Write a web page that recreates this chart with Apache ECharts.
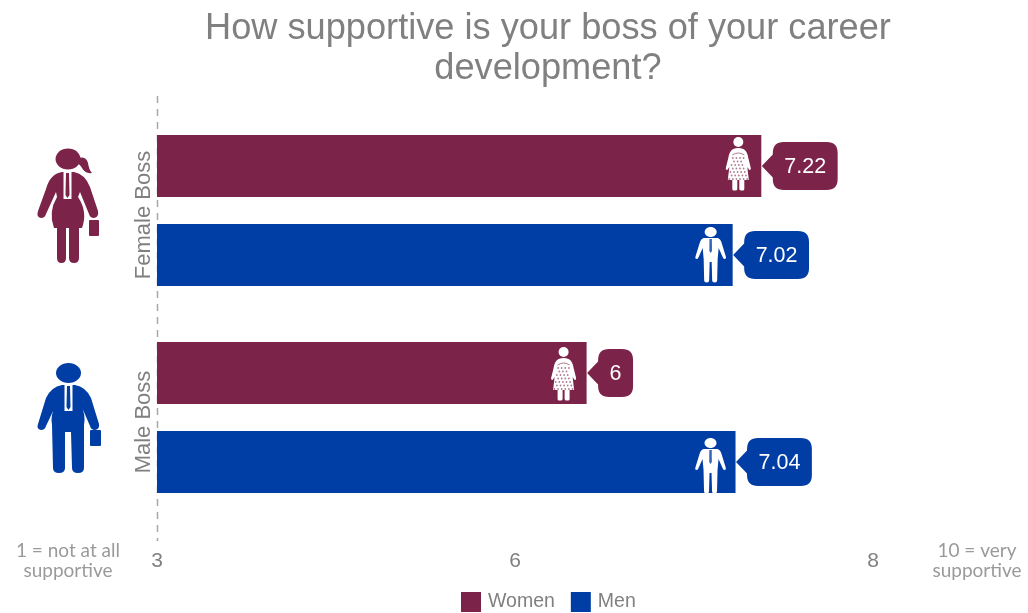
<!DOCTYPE html>
<html>
<head>
<meta charset="utf-8">
<style>html,body{margin:0;padding:0;background:#fff}#chart{width:1028px;height:613px}</style>
<script src="https://cdn.jsdelivr.net/npm/echarts@6/dist/echarts.min.js"></script>
</head>
<body>
<div id="chart"></div>
<script>
// Survey results: rating of the boss's support, split by boss gender and respondent gender.
const categories = ['Female Boss', 'Male Boss'];
const womenValues = [7.22, 6];
const menValues = [7.02, 7.04];
const tickValues = [3, 5.5, 8];
const tickLabels = ['3', '6', '8'];

const WOMEN_COLOR = '#7b2349';
const MEN_COLOR = '#003da5';
const TEXT_GRAY = '#808080';
const BAR_SIZE = 62;
const BAR_GAP = 27;
const SANS = '"Liberation Sans", Arial, sans-serif';
const VALUE_FONT = '21.5px ' + SANS;

const measureCtx = document.createElement('canvas').getContext('2d');
function textWidth(text, font) {
  measureCtx.font = font;
  return measureCtx.measureText(text).width;
}

// Speech-bubble outline: tip at the origin, body to the right of it.
function bubblePath(w) {
  const g = 11, h = 24, r = 11, t = 11.5;
  const x1 = g, x2 = g + w;
  return `M0 0 L${x1} ${-t} L${x1} ${-h + r} Q${x1} ${-h} ${x1 + r} ${-h} ` +
    `L${x2 - r} ${-h} Q${x2} ${-h} ${x2} ${-h + r} L${x2} ${h - r} Q${x2} ${h} ${x2 - r} ${h} ` +
    `L${x1 + r} ${h} Q${x1} ${h} ${x1} ${h - r} L${x1} ${t} Z`;
}

// Small white pictogram of a woman in a patterned dress, centred on (0,0).
function womanIcon(cx, color) {
  const kids = [
    { type: 'circle', shape: { cx: cx, cy: -24, r: 5 }, style: { fill: '#fff' } },
    { type: 'path', shape: { pathData:
      `M${cx - 5} -17 Q${cx} -19 ${cx + 5} -17 Q${cx + 9} -15 ${cx + 10} -8 L${cx + 12.5} 2 Q${cx + 13} 4 ${cx + 11} 4 ` +
      `L${cx + 9} 1 L${cx + 10.5} 14 L${cx - 10.5} 14 L${cx - 9} 1 L${cx - 11} 4 Q${cx - 13} 4 ${cx - 12.5} 2 ` +
      `L${cx - 10} -8 Q${cx - 9} -15 ${cx - 5} -17 Z` }, style: { fill: '#fff' } },
    { type: 'path', shape: { pathData:
      `M${cx - 6} 14 L${cx - 1} 14 L${cx - 1} 23 Q${cx - 1} 24.5 ${cx - 3} 24.5 L${cx - 4.5} 24.5 Q${cx - 6} 24.5 ${cx - 6} 23 Z ` +
      `M${cx + 1} 14 L${cx + 6} 14 L${cx + 6} 23 Q${cx + 6} 24.5 ${cx + 4.5} 24.5 L${cx + 3} 24.5 Q${cx + 1} 24.5 ${cx + 1} 23 Z` },
      style: { fill: '#fff' } },
    { type: 'path', shape: { pathData: `M${cx - 6} -11 Q${cx} -15 ${cx + 6} -11` },
      style: { fill: 'none', stroke: color, lineWidth: 1, opacity: 0.6 } }
  ];
  for (let row = 0; row < 7; row++) {
    const y = -8 + row * 3.5;
    const half = 5.5 + row * 0.6;
    const shift = row % 2 ? 1.8 : 0;
    for (let x = -half + shift; x <= half; x += 3.6) {
      kids.push({ type: 'circle', shape: { cx: cx + x, cy: y, r: 0.9 }, style: { fill: color, opacity: 0.6 } });
    }
  }
  return kids;
}

// Small white pictogram of a man with a tie.
function manIcon(cx, color) {
  return [
    { type: 'ellipse', shape: { cx: cx, cy: -23, rx: 6, ry: 5 }, style: { fill: '#fff' } },
    { type: 'path', shape: { pathData:
      `M${cx - 7} -17 L${cx + 7} -17 Q${cx + 10} -16 ${cx + 11} -12 L${cx + 15} 1 Q${cx + 16} 4 ${cx + 14} 4 Q${cx + 12.5} 4 ${cx + 12} 2 ` +
      `L${cx + 8} -7 L${cx + 7} 4 L${cx + 6.5} 25 Q${cx + 6.5} 27.5 ${cx + 4} 27.5 Q${cx + 1.5} 27.5 ${cx + 1.5} 25 L${cx + 1} 7 ` +
      `L${cx - 1} 7 L${cx - 1.5} 25 Q${cx - 1.5} 27.5 ${cx - 4} 27.5 Q${cx - 6.5} 27.5 ${cx - 6.5} 25 L${cx - 7} 4 L${cx - 8} -7 ` +
      `L${cx - 12} 2 Q${cx - 12.5} 4 ${cx - 14} 4 Q${cx - 16} 4 ${cx - 15} 1 L${cx - 11} -12 Q${cx - 10} -16 ${cx - 7} -17 Z` },
      style: { fill: '#fff' } },
    { type: 'path', shape: { pathData:
      `M${cx - 1.2} -16 L${cx + 1.2} -16 L${cx + 1.3} -4 L${cx} -2 L${cx - 1.3} -4 Z` }, style: { fill: color, opacity: 0.8 } }
  ];
}

// Value bubble and pictogram attached to the end of a bar.
function calloutSeries(values, color, side, iconFn, iconOffsets) {
  return {
    type: 'custom',
    silent: true,
    z: 5,
    clip: false,
    encode: { x: 0, y: 1 },
    data: values.map((v, i) => [v, i]),
    renderItem: function (params, api) {
      const end = api.coord([api.value(0), api.value(1)]);
      const y = end[1] + side * (BAR_SIZE + BAR_GAP) / 2;
      const label = String(api.value(0));
      const w = textWidth(label, VALUE_FONT) + 23;
      const off = iconOffsets[params.dataIndex];
      return {
        type: 'group',
        x: end[0],
        y: y,
        children: [
          { type: 'path', x: 0.5, shape: { pathData: bubblePath(w) }, style: { fill: color } },
          { type: 'text', x: 11.5 + w / 2, y: 1.5,
            style: { text: label, font: VALUE_FONT, fill: '#fff', textAlign: 'center', textVerticalAlign: 'middle' } },
          { type: 'group', y: off[1], children: iconFn(off[0], color) }
        ]
      };
    }
  };
}

function sideNote(x, y, text) {
  return {
    type: 'text', x: x, y: y, z: 3,
    style: { text: text, fill: '#9a9a9a', font: '19px Lato, sans-serif', textAlign: 'center', lineHeight: 20 }
  };
}

// Large boss figures to the left of each group.
function bossFigure(color, head, parts, shirt, tie) {
  return [
    { type: 'ellipse', shape: head, style: { fill: color } },
    { type: 'path', shape: { pathData: parts }, style: { fill: color } },
    { type: 'path', shape: { pathData: shirt }, style: { fill: '#fff' } },
    { type: 'path', shape: { pathData: tie }, style: { fill: color } }
  ];
}

const femaleBoss = bossFigure(
  WOMEN_COLOR,
  { cx: 68, cy: 159, rx: 12.5, ry: 10.5 },
  'M78 158 Q86 156 88 163 Q89 170 92 173 Q85 174 82 168 Q80 164 76 163 Z ' +
  'M62 172 L74 172 Q85 174 90 187 L98 211 Q99 217 94 218 Q90 218 89 214 L80 192 L78 197 Q88 212 82 228 L54 228 ' +
  'Q48 212 57 197 L56 192 L46 214 Q45 218 41 218 Q36 217 38 211 L46 189 Q50 174 62 172 Z ' +
  'M57 226 L66 226 L66 258 Q66 263 61.5 263 Q57 263 57 258 Z ' +
  'M69 226 L79 226 L79 258 Q79 263 74 263 Q69 263 69 258 Z ' +
  'M90 220 L98 220 Q99 220 99 221 L99 235 Q99 236 98 236 L90 236 Q89 236 89 235 L89 221 Q89 220 90 220 Z',
  'M63.5 172 L71.5 172 L71.5 199 L63.5 199 Z',
  'M66 173 L69 173 L69.5 195 L67.5 198 L65.5 195 Z'
);
const maleBoss = bossFigure(
  MEN_COLOR,
  { cx: 68.5, cy: 373, rx: 12.5, ry: 10 },
  'M62 385 L75 385 Q86 387 91 398 L99 424 Q100 429 95 430 Q91 430 90 426 L81 405 Q86 415 84 425 L84 468 ' +
  'Q84 473 78 473 Q72 473 72 468 L71 432 L65 432 L65 468 Q65 473 59 473 Q53 473 53 468 L52 425 Q50 415 56 405 ' +
  'L46 426 Q45 430 41 430 Q36 429 38 424 L46 398 Q51 387 62 385 Z ' +
  'M91 430 L100 430 Q101 430 101 431 L101 445 Q101 446 100 446 L91 446 Q90 446 90 445 L90 431 Q90 430 91 430 Z',
  'M64.5 385 L72.5 385 L72.5 411 L64.5 411 Z',
  'M67 386 L70 386 L70.5 407 L68.5 410 L66.5 407 Z'
);

const chart = echarts.init(document.getElementById('chart'), null, { renderer: 'canvas' });
chart.setOption({
  animation: false,
  backgroundColor: '#fff',
  title: {
    text: 'How supportive is your boss of your career\ndevelopment?',
    left: 548,
    top: 9,
    padding: 0,
    textAlign: 'center',
    textStyle: { color: TEXT_GRAY, fontFamily: SANS, fontSize: 36.2, fontWeight: 'normal', lineHeight: 40 }
  },
  legend: {
    data: ['Women', 'Men'],
    left: 461,
    top: 592,
    padding: 0,
    icon: 'rect',
    itemWidth: 20,
    itemHeight: 20,
    itemGap: 16,
    textStyle: { color: TEXT_GRAY, fontFamily: SANS, fontSize: 19.5, padding: [8, 0, 0, 2] }
  },
  grid: { left: 157, right: 155, top: 107, bottom: 92 },
  xAxis: {
    type: 'value',
    min: 3,
    max: 8,
    axisLine: { show: false },
    axisTick: { show: false },
    splitLine: { show: false },
    axisLabel: {
      customValues: tickValues,
      formatter: v => tickLabels[tickValues.indexOf(v)],
      margin: 30,
      color: TEXT_GRAY,
      fontFamily: SANS,
      fontSize: 21
    }
  },
  yAxis: {
    type: 'category',
    data: categories,
    inverse: true,
    axisLine: { show: false },
    axisTick: { show: false },
    axisLabel: {
      rotate: 90,
      margin: 2,
      color: TEXT_GRAY,
      fontFamily: SANS,
      fontSize: 22,
      padding: [0, 9, 0, 0]
    }
  },
  series: [
    { name: 'Women', type: 'bar', data: womenValues, barWidth: BAR_SIZE, barGap: (BAR_GAP / BAR_SIZE * 100) + '%',
      itemStyle: { color: WOMEN_COLOR } },
    { name: 'Men', type: 'bar', data: menValues, barWidth: BAR_SIZE,
      itemStyle: { color: MEN_COLOR } },
    calloutSeries(womenValues, WOMEN_COLOR, -1, womanIcon, [[-23, 0], [-23, 3]]),
    calloutSeries(menValues, MEN_COLOR, 1, manIcon, [[-22, 0], [-25, 4]]),
    {
      type: 'custom',
      coordinateSystem: 'none',
      silent: true,
      data: [[0]],
      renderItem: function () {
        return { type: 'group', children: femaleBoss.concat(maleBoss) };
      }
    }
  ],
  graphic: {
    elements: [
      { type: 'line', z: -1, shape: { x1: 157.5, y1: 96, x2: 157.5, y2: 541 },
        style: { stroke: '#a8a8a8', lineWidth: 1.5, lineDash: [7, 6] } },
      sideNote(68, 541, '1 = not at all\nsupportive'),
      sideNote(977, 541, '10 = very\nsupportive')
    ]
  }
});
</script>
</body>
</html>
